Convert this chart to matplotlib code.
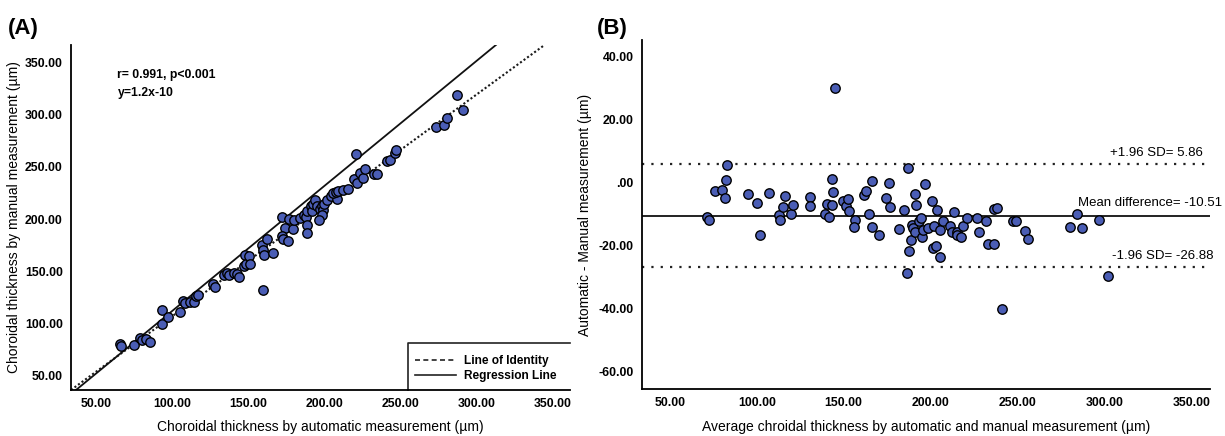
import matplotlib.pyplot as plt
from matplotlib.lines import Line2D
from matplotlib.ticker import FuncFormatter
import matplotlib.transforms as mtransforms

# (A) automatic vs manual choroidal thickness
auto_thk = [65.5, 66.2, 74.7, 78.6, 79.8, 82.4, 85.2, 93.2, 92.9, 96.8,
            104.9, 107.1, 108.3, 111.5, 114.3, 115.2, 117.0, 126.8, 128.1, 134.0,
            135.6, 137.3, 140.4, 142.2, 143.5, 147.6, 147.0, 148.3, 150.1, 150.9,
            159.3, 158.6, 159.3, 160.1, 161.9, 166.2, 171.7, 174.1, 179.4, 171.7,
            172.4, 176.1, 176.5, 180.1, 183.5, 186.4, 187.5, 188.2, 188.6, 188.6,
            190.8, 191.5, 192.5, 193.6, 194.7, 196.9, 198.0, 199.1, 198.0, 196.5,
            199.5, 201.7, 204.1, 208.3, 205.7, 207.2, 208.5, 212.2, 215.5, 219.3,
            221.0, 220.6, 223.2, 225.4, 226.7, 232.4, 234.2, 241.1, 242.9, 245.9,
            246.6, 272.9, 278.4, 280.2, 286.7, 290.7]
manual_thk = [79.6, 78.0, 79.3, 86.0, 83.7, 84.4, 81.8, 112.5, 99.1, 105.5,
              110.6, 121.1, 119.5, 120.8, 120.8, 126.0, 126.6, 137.2, 134.6, 146.7,
              148.3, 145.8, 148.3, 147.7, 144.2, 165.0, 154.7, 157.3, 164.3, 157.3,
              131.7, 174.9, 170.7, 165.9, 181.0, 167.6, 202.1, 191.1, 190.6, 183.4,
              180.9, 179.0, 200.1, 199.5, 201.1, 204.3, 202.1, 207.4, 194.7, 186.7,
              212.9, 207.4, 214.8, 218.6, 212.2, 209.7, 212.9, 209.1, 204.3, 199.5,
              214.8, 218.6, 221.8, 219.6, 225.1, 226.0, 227.3, 228.2, 228.9, 238.8,
              234.7, 262.5, 244.2, 239.5, 248.4, 243.6, 243.6, 255.4, 257.0, 263.4,
              266.6, 288.6, 289.9, 296.6, 318.6, 304.3]

reg_slope, reg_intercept = 1.2, -8.0
ident_slope, ident_intercept = 1.064, 0.5

# (B) Bland-Altman
ba_mean = [71.3, 72.6, 76.2, 80.3, 81.8, 82.4, 82.8, 95.2, 100.4, 102.1,
           107.0, 112.7, 113.5, 115.0, 116.5, 120.0, 121.1, 130.7, 130.7, 139.4,
           140.7, 141.7, 143.2, 143.2, 144.1, 149.5, 151.3, 152.8, 153.3, 156.4,
           156.0, 161.8, 163.0, 166.4, 164.7, 166.2, 170.6, 174.5, 176.0, 176.6,
           182.0, 184.8, 186.9, 186.4, 187.7, 188.7, 189.2, 190.2, 191.0, 191.9,
           191.3, 193.6, 194.4, 195.2, 195.9, 197.1, 198.8, 201.1, 202.1, 201.7,
           203.2, 203.6, 205.3, 205.5, 207.1, 211.3, 212.4, 213.4, 215.2, 215.5,
           217.4, 218.6, 221.2, 227.0, 228.1, 231.8, 233.3, 236.8, 236.8, 238.1,
           247.3, 249.2, 254.4, 255.9, 144.8, 241.0, 284.2, 280.3, 287.4, 297.0,
           302.2]
ba_diff = [-11.0, -12.0, -2.5, -2.3, -4.9, 0.7, 5.6, -3.6, -6.5, -16.7,
           -3.3, -10.3, -11.8, -7.6, -4.2, -10.1, -7.0, -4.4, -7.4, -9.9,
           -6.7, -11.0, -7.0, 1.3, -3.1, -5.7, -7.3, -5.1, -8.9, -12.0,
           -14.1, -3.9, -2.8, 0.5, -9.9, -14.1, -16.6, -4.9, -0.1, -7.8,
           -14.7, -8.6, 4.6, -28.7, -21.6, -18.3, -13.5, -14.4, -3.6, -7.0,
           -15.8, -12.1, -11.2, -17.1, -15.0, -0.5, -14.4, -5.8, -13.6, -20.6,
           -20.2, -8.6, -14.9, -23.7, -12.1, -13.7, -15.7, -9.3, -15.7, -16.5,
           -17.3, -13.7, -11.1, -11.1, -15.5, -12.3, -19.3, -19.4, -8.5, -8.0,
           -12.3, -12.1, -15.4, -18.0, 30.1, -40.1, -10.0, -14.0, -14.5, -11.8,
           -29.7]
mean_diff = -10.51
upper_loa = 5.86
lower_loa = -26.88

ticks_a = [50, 100, 150, 200, 250, 300, 350]
ticks_b_y = [-60, -40, -20, 0, 20, 40]

sans = ['Liberation Sans', 'DejaVu Sans']
label_font = dict(family=sans, size=10)
dot_color = '#4a5db5'


def spss_fmt(v, pos):
    s = '%.2f' % v
    if abs(v) < 1e-9:
        s = '.00'
    return s


def style_axes(ax):
    for side in ['top', 'right']:
        ax.spines[side].set_visible(False)
    for side in ['left', 'bottom']:
        ax.spines[side].set_linewidth(1.3)
    ax.tick_params(length=0, pad=6)
    ax.xaxis.set_major_formatter(FuncFormatter(spss_fmt))
    ax.yaxis.set_major_formatter(FuncFormatter(spss_fmt))
    for lab in ax.get_xticklabels() + ax.get_yticklabels():
        lab.set_fontfamily(sans)
        lab.set_fontweight('bold')
        lab.set_fontsize(8.8)


fig = plt.figure(figsize=(12.25, 4.36), dpi=100)

# ---------------- (A)
axA = fig.add_axes([71 / 1225, 46 / 436, 499 / 1225, 345 / 436])
axA.set_xlim(33.3, 361.2)
axA.set_ylim(35.9, 367)
axA.set_xticks(ticks_a)
axA.set_yticks(ticks_a)
axA.axline((0, ident_intercept), slope=ident_slope, color='#1a1a1a', lw=1.5,
           ls=(0, (1, 1.1)), zorder=2)
axA.axline((0, reg_intercept), slope=reg_slope, color='#111111', lw=1.3, zorder=2)
axA.scatter(auto_thk, manual_thk, s=46, facecolor=dot_color, edgecolor='black',
            linewidth=1.0, zorder=3)
style_axes(axA)
axA.set_xlabel('Choroidal thickness by automatic measurement (µm)', va='center', **label_font)
axA.set_ylabel('Choroidal thickness by manual measurement (µm)', va='center', **label_font)
axA.xaxis.set_label_coords(0.5, -0.107)
axA.yaxis.set_label_coords(-0.114, 0.5)

axA.text(0.093, 0.913, 'r= 0.991, p<0.001', transform=axA.transAxes, va='center',
         family=sans, weight='bold', size=8.8)
axA.text(0.093, 0.861, 'y=1.2x-10', transform=axA.transAxes, va='center',
         family=sans, weight='bold', size=8.8)

# legend box (only left and top edges show in the original)
axA.plot([0.675, 0.675, 1.0], [0.0, 0.136, 0.136], transform=axA.transAxes,
         color='#222222', lw=1.2, clip_on=False)
handles = [Line2D([], [], color='#222222', lw=1.2, ls=(0, (3, 2))),
           Line2D([], [], color='#222222', lw=1.2)]
leg = axA.legend(handles, ['Line of Identity', 'Regression Line'], frameon=False,
                 loc='center left', bbox_to_anchor=(0.69, 0.062), borderpad=0,
                 borderaxespad=0, handlelength=3.4, handletextpad=0.65, labelspacing=0.2,
                 prop=dict(family=sans, weight='bold', size=8.6))

# ---------------- (B)
axB = fig.add_axes([642 / 1225, 47 / 436, 568 / 1225, 349 / 436])
axB.set_xlim(34, 360.8)
axB.set_ylim(-65.4, 45.2)
axB.set_xticks(ticks_a)
axB.set_yticks(ticks_b_y)
axB.axhline(mean_diff, color='#111111', lw=1.3, zorder=2)
axB.axhline(upper_loa, color='#222222', lw=1.6, ls=(0, (1, 3.2)), zorder=2)
axB.axhline(lower_loa, color='#222222', lw=1.6, ls=(0, (1, 3.2)), zorder=2)
axB.scatter(ba_mean, ba_diff, s=46, facecolor=dot_color, edgecolor='black',
            linewidth=1.0, zorder=3)
style_axes(axB)
axB.set_xlabel('Average chroidal thickness by automatic and manual measurement (µm)',
               va='center', **label_font)
axB.set_ylabel('Automatic - Manual measurement (µm)', va='center', **label_font)
axB.xaxis.set_label_coords(0.5, -0.109)
axB.yaxis.set_label_coords(-0.0995, 0.5)

blend = mtransforms.blended_transform_factory(axB.transAxes, axB.transData)
note_font = dict(family=sans, size=9.5)
axB.annotate('+1.96 SD= %.2f' % upper_loa, xy=(0.988, upper_loa), xycoords=blend,
             xytext=(0, 3.5), textcoords='offset points', ha='right', va='bottom', **note_font)
axB.annotate('Mean difference= %.2f' % mean_diff, xy=(1.021, mean_diff), xycoords=blend,
             xytext=(0, 5), textcoords='offset points', ha='right', va='bottom', **note_font)
axB.annotate('-1.96 SD= %.2f' % lower_loa, xy=(1.007, lower_loa), xycoords=blend,
             xytext=(0, 4), textcoords='offset points', ha='right', va='bottom', **note_font)

fig.text(8 / 1225, 1 - 28 / 436, '(A)', fontsize=16, weight='bold', va='center', family=sans)
fig.text(597 / 1225, 1 - 28 / 436, '(B)', fontsize=16, weight='bold', va='center', family=sans)

fig.savefig('out.png', dpi=100)
